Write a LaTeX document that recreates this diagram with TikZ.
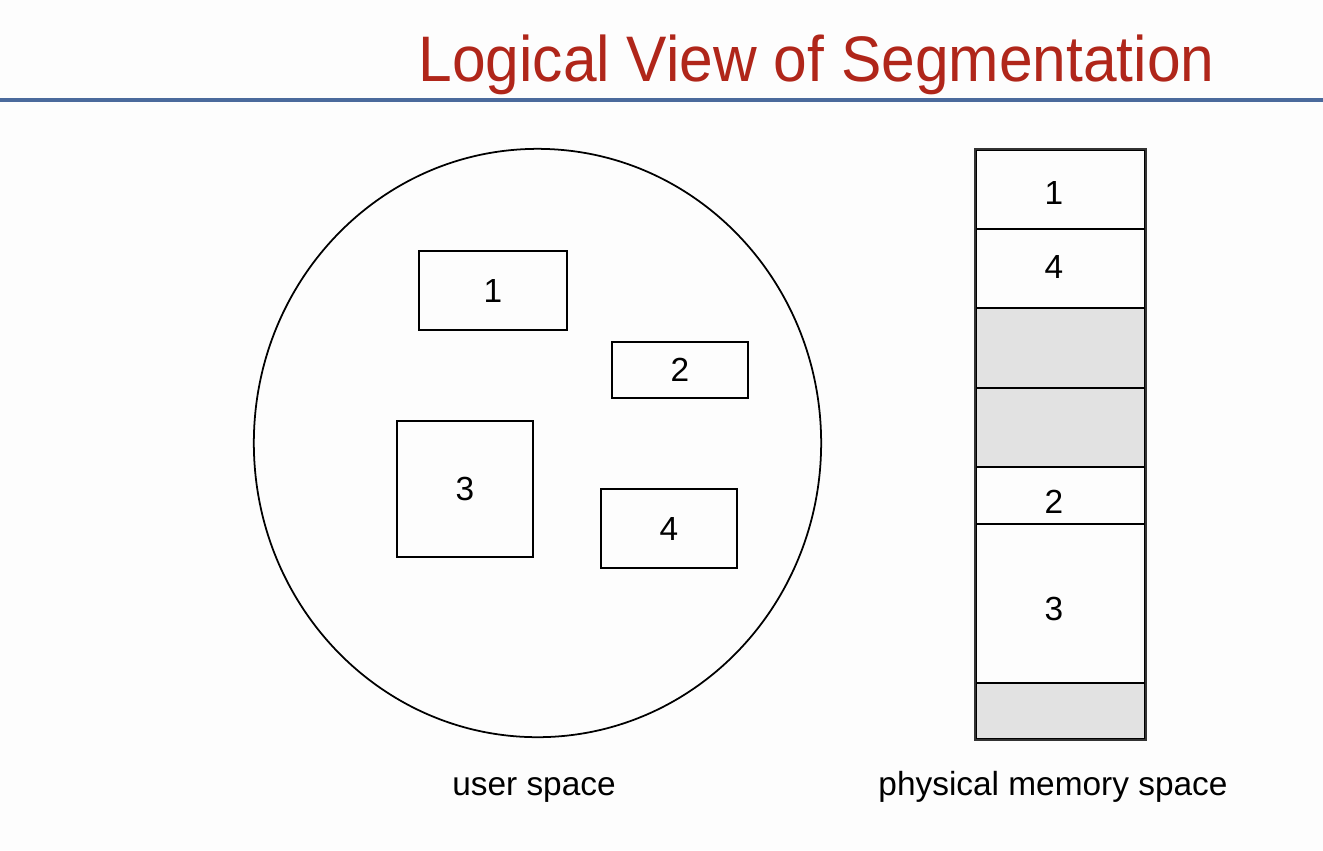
\documentclass[tikz,border=0pt]{standalone}
\usepackage{fontspec}
\usetikzlibrary{shapes.geometric}
\setmainfont{Liberation Sans}
\newfontfamily\titlefont[FakeStretch=0.94]{Liberation Sans}
\definecolor{titlered}{HTML}{B0261A}
\definecolor{rulebl}{HTML}{4A6A9C}
\definecolor{holegray}{HTML}{E2E2E2}
\definecolor{bgwhite}{HTML}{FDFDFD}
\begin{document}
\begin{tikzpicture}[x=0.01cm,y=-0.01cm,
  lbl/.style={font=\fontsize{9.5}{11}\selectfont, inner sep=0pt},
  seg/.style={draw=black, line width=0.5pt, inner sep=0pt, font=\fontsize{9.5}{11}\selectfont},
  mem/.style={draw=black, line width=0.5pt, inner sep=0pt, minimum width=1.69cm, anchor=north west},
  hole/.style={mem, fill=holegray}]
  \fill[bgwhite] (0,0) rectangle (1323,850);
  \useasboundingbox (0,0) rectangle (1323,850);
  % title
  \node[anchor=base, text=titlered, font=\titlefont\fontsize{18.3}{22}\selectfont, inner sep=0pt] (title) at (816.5,81) {Logical View of Segmentation};
  \coordinate (rl) at (0,100);
  \coordinate (rr) at (1323,100);
  \draw[rulebl, line width=0.9pt] (rl) -- (rr);
  % user space
  \node[draw=black, line width=0.5pt, ellipse, minimum width=5.67cm, minimum height=5.88cm, inner sep=0pt] (us) at (537.5,443) {};
  \node[seg, minimum width=1.48cm, minimum height=0.79cm] (s1) at (493,290.5) {1};
  \node[seg, minimum width=1.36cm, minimum height=0.56cm] (s2) at (680,370) {2};
  \node[seg, minimum width=1.36cm, minimum height=1.36cm] (s3) at (465,489) {3};
  \node[seg, minimum width=1.36cm, minimum height=0.79cm] (s4) at (669,528.5) {4};
  % physical memory
  \node[mem, minimum height=0.79cm] (m1) at (975,149) {};
  \node[mem, minimum height=0.79cm] (m4) at (975,228) {};
  \node[hole, minimum height=0.80cm] (h1) at (975,307) {};
  \node[hole, minimum height=0.79cm] (h2) at (975,387) {};
  \node[mem, minimum height=0.57cm] (m2) at (975,466) {};
  \node[mem, minimum height=1.59cm] (m3) at (975,523) {};
  \node[hole, minimum height=0.56cm] (h3) at (975,682) {};
  \node[lbl] (m1l) at (1054,193) {1};
  \node[lbl] (m4l) at (1054,267) {4};
  \node[lbl] (m2l) at (1054,502) {2};
  \node[lbl] (m3l) at (1054,609) {3};
  \draw[line width=0.7pt, draw=black!80] (m1.north west) rectangle (h3.south east);
  % captions
  \node[lbl, anchor=base] (cap1) at (534,795) {user space};
  \node[lbl, anchor=base] (cap2) at (1053,795) {physical memory space};
\end{tikzpicture}
\end{document}
